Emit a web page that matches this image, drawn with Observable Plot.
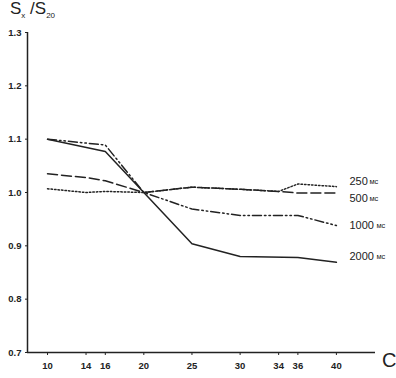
<!DOCTYPE html>
<html><head><meta charset="utf-8">
<script src="https://cdn.jsdelivr.net/npm/d3@7"></script>
<script src="https://cdn.jsdelivr.net/npm/@observablehq/plot@0.6"></script>
<style>
body{margin:0;background:#fff;font-family:"Liberation Sans",Arial,sans-serif;}
#wrap{position:relative;width:396px;height:378px;}
#title{position:absolute;left:10px;top:-1px;font-size:17px;color:#222;}
#title sub{font-size:8px;}
</style></head>
<body>
<div id="wrap"><div id="title">S<sub>x</sub> /S<sub>20</sub></div></div>
<script>
const xTicks = [10, 14, 16, 20, 25, 30, 34, 36, 40];
const yTicks = [0.7, 0.8, 0.9, 1.0, 1.1, 1.2, 1.3];
const seriesNames = ["250", "500", "1000", "2000"];
const xs250 = [10, 14, 16, 20, 25, 30, 34, 36, 40];
const ys250 = [1.007, 1.0, 1.002, 1.0, 1.01, 1.006, 1.002, 1.016, 1.011];
const xs500 = [10, 14, 16, 20, 25, 30, 34, 36, 40];
const ys500 = [1.035, 1.028, 1.022, 1.0, 1.01, 1.006, 1.002, 0.999, 0.999];
const xs1000 = [10, 16, 20, 25, 30, 36, 40];
const ys1000 = [1.10, 1.089, 1.0, 0.969, 0.957, 0.957, 0.938];
const xs2000 = [10, 16, 20, 25, 30, 36, 40];
const ys2000 = [1.10, 1.077, 1.0, 0.904, 0.880, 0.878, 0.869];
const labelY = [1.021, 0.989, 0.938, 0.88];
const unit = "мс";

const dashes = {"250": "1.5,2", "500": "10,4", "1000": "9,3,1.5,3,1.5,3", "2000": null};
const raw = {"250": [xs250, ys250], "500": [xs500, ys500], "1000": [xs1000, ys1000], "2000": [xs2000, ys2000]};
const labels = seriesNames.map((s, i) => ({s, x: 40, y: labelY[i]}));

const lineMarks = seriesNames.map(s => Plot.line(raw[s][0].map((x, i) => ({x, y: raw[s][1][i]})),
  {x: "x", y: "y", stroke: "#222", strokeWidth: 1.5, strokeDasharray: dashes[s]}));

const chart = Plot.plot({
  width: 396, height: 378,
  marginLeft: 27, marginRight: 21, marginTop: 32, marginBottom: 26,
  style: {fontFamily: "'Liberation Sans', Arial, sans-serif", background: "transparent"},
  x: {domain: [7.92, 44.06]},
  y: {domain: [0.7, 1.3]},
  marks: [
    Plot.axisY({ticks: yTicks, tickFormat: d3.format(".1f"), tickSize: 2, tickPadding: 4, fontWeight: "bold", fontSize: 9.5, label: null, color: "#222"}),
    Plot.axisX({ticks: xTicks, tickSize: 3, tickPadding: 7, fontWeight: "bold", fontSize: 9.5, label: null, color: "#222"}),
    Plot.ruleY([0.7], {stroke: "#222", strokeWidth: 1.5}),
    Plot.ruleX([7.92], {stroke: "#222", strokeWidth: 1.5}),
    ...lineMarks,
    Plot.text(labels, {x: "x", y: "y", text: "s", dx: 13, textAnchor: "start", fontSize: 11, fill: "#222"}),
    Plot.text(labels.filter(d => d.s.length === 3), {x: "x", y: "y", text: () => unit, dx: 33, textAnchor: "start", fontSize: 7.5, fill: "#222"}),
    Plot.text(labels.filter(d => d.s.length === 4), {x: "x", y: "y", text: () => unit, dx: 40, textAnchor: "start", fontSize: 7.5, fill: "#222"}),
    Plot.text(["C"], {frameAnchor: "bottom-right", dx: 21, dy: 14, textAnchor: "end", fontSize: 20, fill: "#222"})
  ]
});
document.getElementById("wrap").appendChild(chart);
chart.style.position = "absolute"; chart.style.left = "0"; chart.style.top = "0";
</script>
</body></html>
